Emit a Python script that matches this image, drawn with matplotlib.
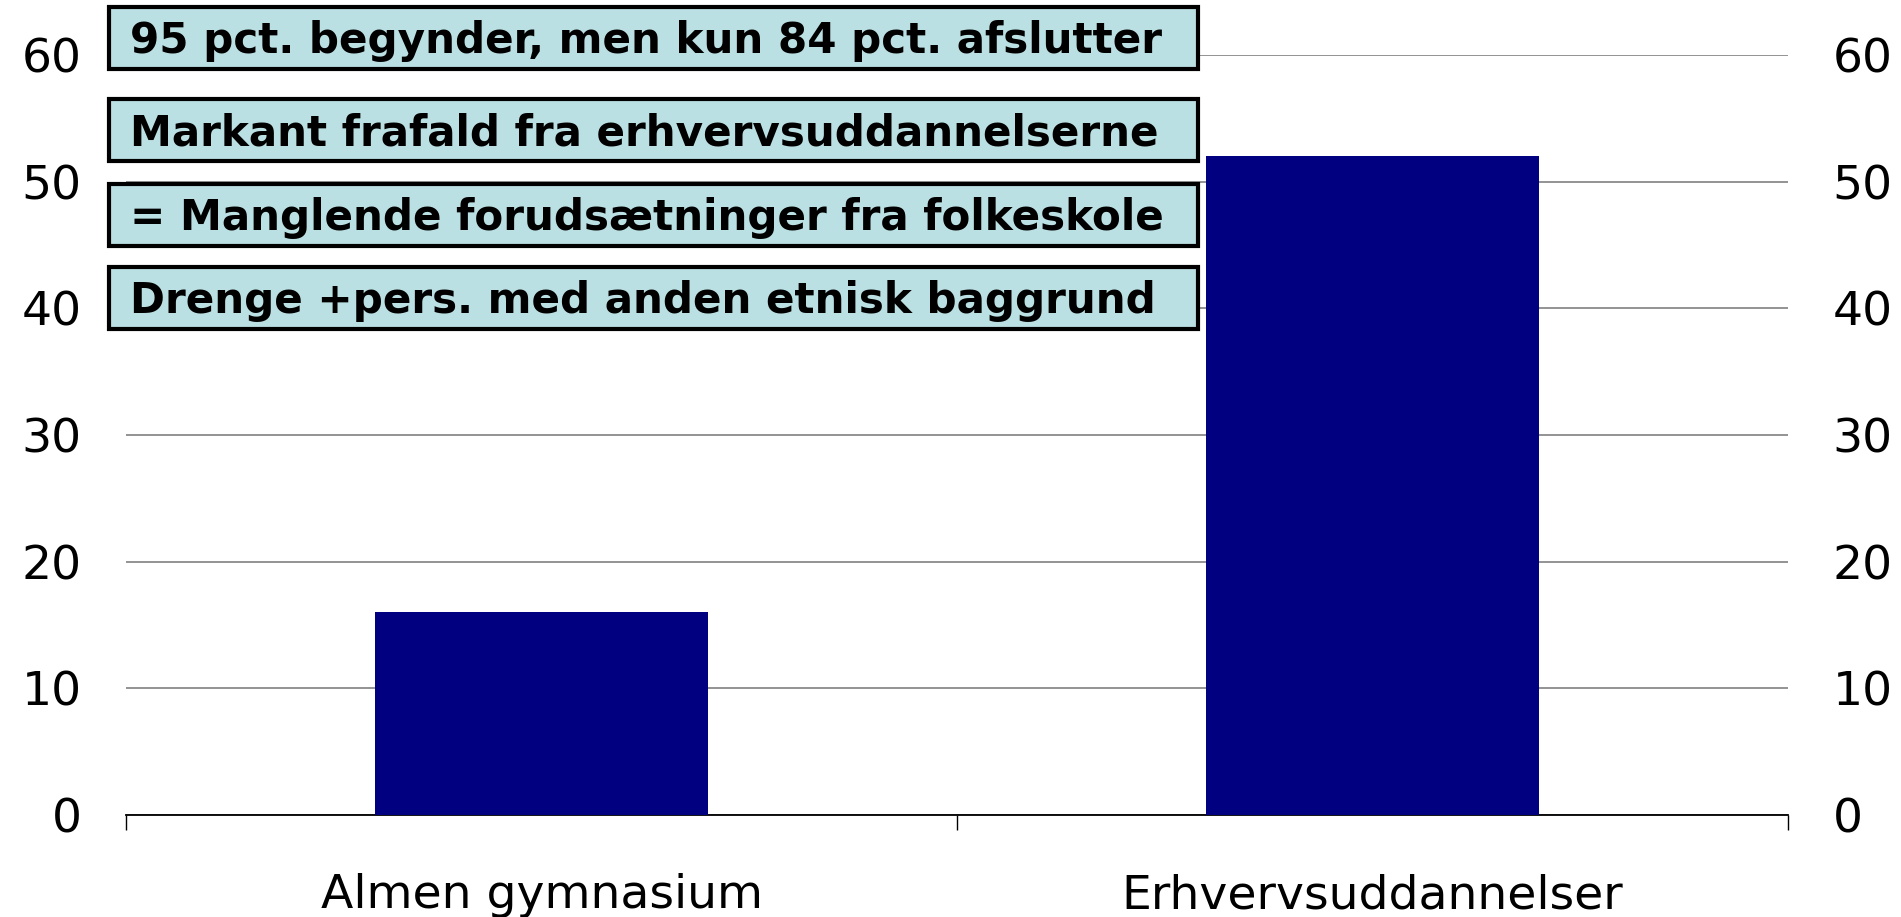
import matplotlib; matplotlib.use("Agg")
import matplotlib.pyplot as plt
from matplotlib.patches import Rectangle

# data
CATS = ["Almen gymnasium", "Erhvervsuddannelser"]
VALS = [16, 52]
YTICKS = [0, 10, 20, 30, 40, 50, 60]
NOTES = ["95 pct. begynder, men kun 84 pct. afslutter",
         "Markant frafald fra erhvervsuddannelserne",
         "= Manglende forudsætninger fra folkeskole",
         "Drenge +pers. med anden etnisk baggrund"]

W, H = 1901, 917
plt.rcParams["font.family"] = ["DejaVu Sans"]
fig = plt.figure(figsize=(W / 100, H / 100), dpi=100)
ax = fig.add_axes([126 / W, 1 - 815 / H, (1788 - 126) / W, (815 - 55) / H])

ax.bar(range(len(CATS)), VALS, width=0.4, color="#000080", zorder=3)
ax.set_xlim(-0.5, 1.5); ax.set_ylim(0, 60)
ax.set_yticks(YTICKS)
ax.yaxis.grid(True, color="#808080", lw=1.2, zorder=0)
for s in ["top", "left", "right"]: ax.spines[s].set_visible(False)
ax.spines["bottom"].set_color("black"); ax.spines["bottom"].set_linewidth(1.3)
ax.tick_params(axis="y", length=0, pad=32, labelsize=34)

ax.set_xticks([-0.5, 0.5, 1.5], ["", "", ""])
ax.tick_params(axis="x", which="major", length=11, width=1, color="black")
ax.set_xticks([0, 1], CATS, minor=True)
ax.tick_params(axis="x", which="minor", length=0, pad=42, labelsize=34)

ax2 = ax.twinx()
ax2.set_ylim(0, 60); ax2.set_yticks(YTICKS)
for s in ["top", "left", "right", "bottom"]: ax2.spines[s].set_visible(False)
ax2.tick_params(axis="y", length=0, pad=32, labelsize=34)

# note boxes (pixel positions of the original slide)
boxes = [(7, 69), (99, 161), (184, 246), (267, 329)]
for (t, b), txt in zip(boxes, NOTES):
    fig.add_artist(Rectangle((109 / W, 1 - b / H), (1198 - 109) / W, (b - t) / H,
                             transform=fig.transFigure, facecolor="#BBE0E3",
                             edgecolor="black", lw=3, zorder=5))
    fig.text(130 / W, 1 - ((t + b) / 2 + 3) / H, txt, fontsize=30.3, fontweight="bold",
             va="center", ha="left", zorder=6)

fig.savefig("out.png", dpi=100)
